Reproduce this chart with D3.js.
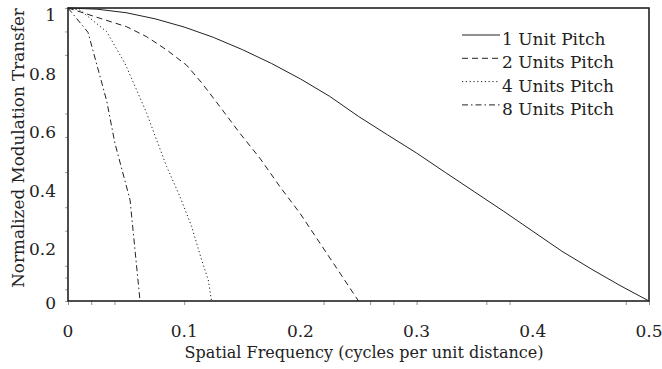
<!DOCTYPE html>
<html>
<head>
<meta charset="utf-8">
<script src="https://cdn.jsdelivr.net/npm/d3@7"></script>
<style>
  html, body { margin: 0; padding: 0; background: #fff; }
</style>
</head>
<body>
<svg id="chart" width="662" height="369"></svg>
<script>
(function () {
// ---- data ----
const freq1 = [0, 0.025, 0.05, 0.075, 0.1, 0.125, 0.15, 0.175, 0.2, 0.225, 0.25, 0.275, 0.3, 0.325, 0.35, 0.375, 0.4, 0.425, 0.45, 0.475, 0.5];
const mtf1  = [1, 0.996, 0.984, 0.963, 0.935, 0.900, 0.858, 0.811, 0.758, 0.699, 0.630, 0.567, 0.505, 0.438, 0.372, 0.306, 0.238, 0.170, 0.110, 0.053, 0];

const freq2 = [0, 0.0103, 0.0275, 0.0505, 0.0677, 0.0849, 0.102, 0.1150, 0.1308, 0.148, 0.1652, 0.1824, 0.1997, 0.2169, 0.2341, 0.2500];
const mtf2  = [1, 0.987, 0.965, 0.936, 0.902, 0.857, 0.805, 0.745, 0.663, 0.572, 0.487, 0.390, 0.299, 0.197, 0.095, 0];

const freq4 = [0, 0.0103, 0.0333, 0.049, 0.0591, 0.0677, 0.0763, 0.0849, 0.0964, 0.1064, 0.1150, 0.1207, 0.1235];
const mtf4  = [1, 0.993, 0.919, 0.811, 0.720, 0.641, 0.549, 0.459, 0.356, 0.254, 0.140, 0.072, 0];

const freq8 = [0, 0.0172, 0.0333, 0.0404, 0.0534, 0.0620];
const mtf8  = [1, 0.917, 0.683, 0.538, 0.345, 0];

const seriesNames = ["1 Unit Pitch", "2 Units Pitch", "4 Units Pitch", "8 Units Pitch"];

const xTickLabels = [0, 0.1, 0.2, 0.3, 0.4, 0.5];
const yTickLabels = [0, 0.2, 0.4, 0.6, 0.8, 1];
const xTickMarks = [0, 0.02, 0.04, 0.1, 0.22, 0.26, 0.28, 0.3, 0.36, 0.38, 0.48, 0.5];
const yTickMarks = [0, 0.04, 0.08, 0.12, 0.24, 0.32, 0.44, 0.56, 0.64, 0.84, 0.92, 1];

const xTitle = "Spatial Frequency (cycles per unit distance)";
const yTitle = "Normalized Modulation Transfer";

// ---- layout ----
const FONT = "'DejaVu Serif', serif";
const svg = d3.select("#chart");
const mLeft = 68, mRight = 649, mTop = 8, mBottom = 301;
const x = d3.scaleLinear().domain([0, 0.5]).range([mLeft, mRight]);
const y = d3.scaleLinear().domain([0, 1]).range([mBottom, mTop]);
const ink = "#222";

const series = [
  { name: seriesNames[0], xs: freq1, ys: mtf1, dash: null },
  { name: seriesNames[1], xs: freq2, ys: mtf2, dash: "6,4" },
  { name: seriesNames[2], xs: freq4, ys: mtf4, dash: "1.2,2.6" },
  { name: seriesNames[3], xs: freq8, ys: mtf8, dash: "6,3,1.5,3" }
];

// ticks (small marks outside axes)
const xAxis = d3.axisBottom(x).tickValues(xTickMarks).tickSize(4).tickFormat("");
svg.append("g").attr("transform", `translate(0,${mBottom})`).call(xAxis)
  .call(g => g.select(".domain").remove())
  .call(g => g.selectAll("line").attr("stroke", "#777").attr("stroke-width", 0.8));
const yAxis = d3.axisLeft(y).tickValues(yTickMarks).tickSize(3).tickFormat("");
svg.append("g").attr("transform", `translate(${mLeft},0)`).call(yAxis)
  .call(g => g.select(".domain").remove())
  .call(g => g.selectAll("line").attr("stroke", "#888").attr("stroke-width", 0.8));

// tick labels
svg.append("g").selectAll("text").data(xTickLabels).join("text")
  .attr("x", d => x(d)).attr("y", 337)
  .attr("text-anchor", "middle").attr("font-size", 17)
  .style("font-family", FONT).attr("fill", ink)
  .text(d => d3.format("")(d));
svg.append("g").selectAll("text").data(yTickLabels).join("text")
  .attr("x", 56).attr("y", d => y(d) + (d === 0 ? 8 : 13))
  .attr("text-anchor", "end").attr("font-size", 17)
  .style("font-family", FONT).attr("fill", ink)
  .text(d => d3.format("")(d));

// frame
svg.append("rect").attr("x", mLeft).attr("y", mTop)
  .attr("width", mRight - mLeft).attr("height", mBottom - mTop)
  .attr("fill", "none").attr("stroke", ink).attr("stroke-width", 1.6);

// curves
const line = d3.line().x(d => x(d[0])).y(d => y(d[1]));
svg.append("g").selectAll("path").data(series).join("path")
  .attr("d", s => line(s.xs.map((v, i) => [v, s.ys[i]])))
  .attr("fill", "none").attr("stroke", ink).attr("stroke-width", 1)
  .attr("stroke-dasharray", s => s.dash);

// legend
const lg = svg.append("g");
series.forEach((s, i) => {
  const cy = 35 + i * 23.3;
  lg.append("line").attr("x1", 462).attr("x2", 500).attr("y1", cy).attr("y2", cy)
    .attr("stroke", ink).attr("stroke-width", 1).attr("stroke-dasharray", s.dash);
  lg.append("text").attr("x", 502).attr("y", cy + 10).attr("font-size", 17)
    .style("font-family", FONT).attr("fill", ink).text(s.name);
});

// axis titles
svg.append("text").attr("x", 364).attr("y", 358).attr("text-anchor", "middle")
  .attr("font-size", 16).style("font-family", FONT).attr("fill", ink).text(xTitle);
svg.append("text").attr("transform", "translate(24,148) rotate(-90)")
  .attr("text-anchor", "middle").attr("font-size", 16.8)
  .style("font-family", FONT).attr("fill", ink).text(yTitle);
})();
</script>
</body>
</html>
